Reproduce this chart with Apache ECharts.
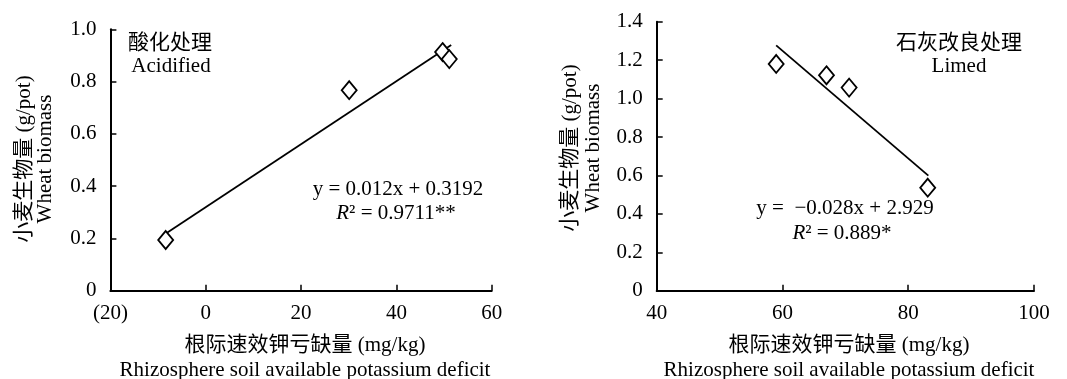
<!DOCTYPE html>
<html>
<head>
<meta charset="utf-8">
<title>wheat biomass vs potassium deficit</title>
<script src="https://cdn.jsdelivr.net/npm/echarts@6/dist/echarts.min.js"></script>
<style>
html, body { margin: 0; padding: 0; background: #fff; }
#main { width: 1067px; height: 379px; }
</style>
</head>
<body>
<div id="main"></div>
<script>
// 酸化处理 (Acidified)
var acidX = [-8.4, 30.1, 49.7, 51.1];
var acidY = [0.194, 0.767, 0.913, 0.886];
var acidFitX = [-8.2, 51.5];
var acidFitY = [0.221, 0.94];
var acidXTicks = [-20, 0, 20, 40, 60];
var acidYTicks = [0, 0.2, 0.4, 0.6, 0.8, 1.0];

// 石灰改良处理 (Limed)
var limedX = [59.0, 67.0, 70.6, 83.1];
var limedY = [1.18, 1.121, 1.057, 0.536];
var limedFitX = [59.0, 83.2];
var limedFitY = [1.277, 0.599];
var limedXTicks = [40, 60, 80, 100];
var limedYTicks = [0, 0.2, 0.4, 0.6, 0.8, 1.0, 1.2, 1.4];

var FONT = '"Liberation Serif", "Times New Roman", "Noto Sans CJK SC", serif';

function pairs(xs, ys) {
	var out = [];
	for (var i = 0; i < xs.length; i++) out.push([xs[i], ys[i]]);
	return out;
}

function xAxisOf(idx, ticks) {
	return {
		type: 'value',
		gridIndex: idx,
		min: ticks[0],
		max: ticks[ticks.length - 1],
		interval: ticks[1] - ticks[0],
		axisLine: { onZero: false, lineStyle: { color: '#000', width: 2 } },
		axisTick: { inside: true, length: 6, lineStyle: { color: '#000', width: 1.5 } },
		axisLabel: {
			color: '#000', fontFamily: FONT, fontSize: 21, margin: 12,
			formatter: function(v) { return v < 0 ? '(' + Math.abs(v) + ')' : String(v); }
		},
		splitLine: { show: false }
	};
}

function yAxisOf(idx, ticks) {
	return {
		type: 'value',
		gridIndex: idx,
		min: ticks[0],
		max: ticks[ticks.length - 1],
		interval: 0.2,
		axisLine: { show: true, onZero: false, lineStyle: { color: '#000', width: 2 } },
		axisTick: { show: true, inside: true, length: 6, lineStyle: { color: '#000', width: 1.5 } },
		axisLabel: {
			color: '#000', fontFamily: FONT, fontSize: 21, margin: 14,
			formatter: function(v) { return v === 0 ? '0' : v.toFixed(1); }
		},
		splitLine: { show: false }
	};
}

function txt(x, y, text, extra) {
	var st = { x: 0, y: 0, text: text, fill: '#000', font: '21px ' + FONT, align: 'center', verticalAlign: 'middle' };
	for (var k in extra) st[k] = extra[k];
	return { type: 'text', x: x, y: y, style: st, z: 10 };
}

var rStyle = {
	rich: {
		i: { fontFamily: FONT, fontSize: 21, fontStyle: 'italic', fill: '#000' },
		n: { fontFamily: FONT, fontSize: 21, fill: '#000' }
	}
};

var myChart = echarts.init(document.getElementById('main'));
var option = {
	backgroundColor: '#fff',
	animation: false,
	grid: [
		{ left: 110.4, top: 29.3, width: 381.3, height: 261.4 },
		{ left: 656.7, top: 21.7, width: 377.3, height: 269 }
	],
	xAxis: [xAxisOf(0, acidXTicks), xAxisOf(1, limedXTicks)],
	yAxis: [yAxisOf(0, acidYTicks), yAxisOf(1, limedYTicks)],
	series: [
		{
			type: 'line', xAxisIndex: 0, yAxisIndex: 0,
			data: pairs(acidFitX, acidFitY), showSymbol: false, symbol: 'none',
			lineStyle: { color: '#000', width: 1.8 }, z: 2
		},
		{
			type: 'scatter', xAxisIndex: 0, yAxisIndex: 0,
			data: pairs(acidX, acidY), symbol: 'diamond', symbolSize: [15, 18],
			itemStyle: { color: '#fff', borderColor: '#000', borderWidth: 1.8, opacity: 1 }, z: 3
		},
		{
			type: 'line', xAxisIndex: 1, yAxisIndex: 1,
			data: pairs(limedFitX, limedFitY), showSymbol: false, symbol: 'none',
			lineStyle: { color: '#000', width: 1.8 }, z: 2
		},
		{
			type: 'scatter', xAxisIndex: 1, yAxisIndex: 1,
			data: pairs(limedX, limedY), symbol: 'diamond', symbolSize: [15, 18],
			itemStyle: { color: '#fff', borderColor: '#000', borderWidth: 1.8, opacity: 1 }, z: 3
		}
	],
	graphic: [
		// 左图
		txt(170, 43, '酸化处理'),
		txt(171, 66, 'Acidified'),
		txt(398, 189, 'y = 0.012x + 0.3192'),
		txt(396, 213, '{i|R}{n|² = 0.9711**}', rStyle),
		{
			type: 'text', x: 35, y: 159, rotation: Math.PI / 2, z: 10,
			style: { x: 0, y: 0, text: '小麦生物量 (g/pot)\nWheat biomass', fill: '#000', font: '21px ' + FONT,
				align: 'center', verticalAlign: 'middle', lineHeight: 21 }
		},
		txt(305, 345, '根际速效钾亏缺量 (mg/kg)'),
		txt(305, 370, 'Rhizosphere soil available potassium deficit'),
		// 右图
		txt(959, 43, '石灰改良处理'),
		txt(959, 66, 'Limed'),
		txt(845, 208, 'y =  \u22120.028x + 2.929'),
		txt(842, 233, '{i|R}{n|² = 0.889*}', rStyle),
		{
			type: 'text', x: 581.5, y: 148, rotation: Math.PI / 2, z: 10,
			style: { x: 0, y: 0, text: '小麦生物量 (g/pot)\nWheat biomass', fill: '#000', font: '21px ' + FONT,
				align: 'center', verticalAlign: 'middle', lineHeight: 23 }
		},
		txt(849, 345, '根际速效钾亏缺量 (mg/kg)'),
		txt(849, 370, 'Rhizosphere soil available potassium deficit')
	]
};
myChart.setOption(option);
window.onresize = myChart.resize;
</script>
</body>
</html>
